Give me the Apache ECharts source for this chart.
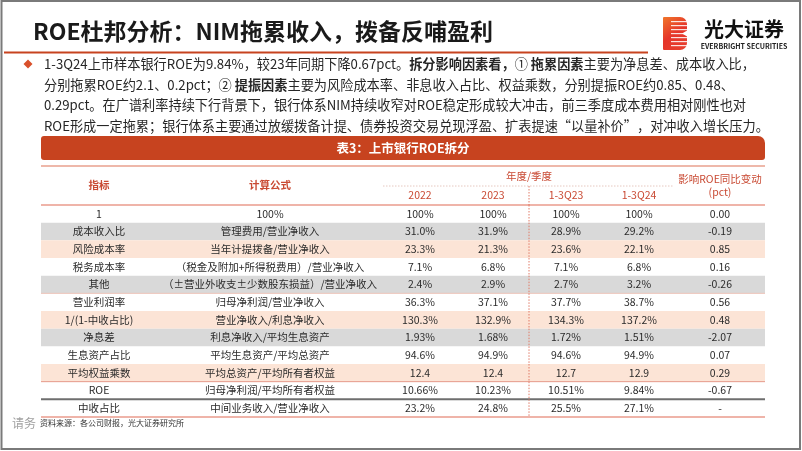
<!DOCTYPE html>
<html><head><meta charset="utf-8">
<script src="https://cdn.jsdelivr.net/npm/echarts/dist/echarts.min.js"></script>
<style>html,body{margin:0;padding:0;background:#fff}#c{width:802px;height:451px}</style>
</head><body><div id="c"></div>
<script>
// ---- data ----
const indicators = ['1','成本收入比','风险成本率','税务成本率','其他','营业利润率','1/(1-中收占比)','净息差','生息资产占比','平均权益乘数','ROE','中收占比'];
const formulas = ['100%','管理费用/营业净收入','当年计提拨备/营业净收入','（税金及附加+所得税费用）/营业净收入','（±营业外收支±少数股东损益）/营业净收入','归母净利润/营业净收入','营业净收入/利息净收入','利息净收入/平均生息资产','平均生息资产/平均总资产','平均总资产/平均所有者权益','归母净利润/平均所有者权益','中间业务收入/营业净收入'];
const v2022 = ['100%','31.0%','23.3%','7.1%','2.4%','36.3%','130.3%','1.93%','94.6%','12.4','10.66%','23.2%'];
const v2023 = ['100%','31.9%','21.3%','6.8%','2.9%','37.1%','132.9%','1.68%','94.9%','12.4','10.23%','24.8%'];
const v1to3Q23 = ['100%','28.9%','23.6%','7.1%','2.7%','37.7%','134.3%','1.72%','94.6%','12.7','10.51%','25.5%'];
const v1to3Q24 = ['100%','29.2%','22.1%','6.8%','3.2%','38.7%','137.2%','1.51%','94.9%','12.9','9.84%','27.1%'];
const roeImpact = ['0.00','-0.19','0.85','0.16','-0.26','0.56','0.48','-2.07','0.07','0.29','-0.67','-'];
const colHeaders = ['指标','计算公式','2022','2023','1-3Q23','1-3Q24'];
const periodHeader = '年度/季度';
const impactHeader = ['影响ROE同比变动','(pct)'];
const slideTitle = 'ROE杜邦分析：NIM拖累收入，拨备反哺盈利';
const tableTitle = '表3：上市银行ROE拆分';
const sourceNote = '资料来源：各公司财报，光大证券研究所';
const paragraph = [
  [['n','1-3Q24上市样本银行ROE为9.84%，较23年同期下降0.67pct。'],['b','拆分影响因素看，'],['n','① '],['b','拖累因素'],['n','主要为净息差、成本收入比，']],
  [['n','分别拖累ROE约2.1、0.2pct；② '],['b','提振因素'],['n','主要为风险成本率、非息收入占比、权益乘数，分别提振ROE约0.85、0.48、']],
  [['n','0.29pct。在广谱利率持续下行背景下，银行体系NIM持续收窄对ROE稳定形成较大冲击，前三季度成本费用相对刚性也对']],
  [['n','ROE形成一定拖累；银行体系主要通过放缓拨备计提、债券投资交易兑现浮盈、扩表提速“以量补价”，对冲收入增长压力。']]
];

// ---- style / layout ----
const FONT = '"Noto Sans CJK SC","Noto Sans",sans-serif';
const RED = '#C7431F';
const layout = { tableLeft: 41, tableRight: 765, cols: [99, 270, 420, 493, 566, 639, 720], divider: 529 };
const rowShade = ['', 'gray', 'pink', '', 'gray', '', 'pink', 'gray', '', 'pink', '', ''];
const shadeFill = { gray: '#D9D9D9', pink: '#FCE4D6' };
const rowBottomLine = { 4: ['#EDC3B8', 1], 9: ['#E59A8A', 1], 10: ['#6E6E6E', 2], 11: ['#E06A55', 1.2] };

const chart = echarts.init(document.getElementById('c'), null, { renderer: 'canvas' });

function renderRow(params, api) {
  const i = api.value(1);
  const c = api.coord([0, i]);
  const band = api.size([0, 1])[1];
  const y0 = c[1] - band / 2, y1 = c[1] + band / 2;
  const xL = api.coord([layout.tableLeft, i])[0];
  const xR = api.coord([layout.tableRight, i])[0];
  const xD = api.coord([layout.divider, i])[0];
  const children = [];
  if (rowShade[i]) {
    children.push({ type: 'rect', shape: { x: xL, y: y0, width: xR - xL, height: band }, style: { fill: shadeFill[rowShade[i]] } });
  }
  const cells = [indicators[i], formulas[i], v2022[i], v2023[i], v1to3Q23[i], v1to3Q24[i], roeImpact[i]];
  cells.forEach((t, k) => {
    const x = api.coord([layout.cols[k], i])[0];
    children.push({ type: 'text', x: x, y: c[1], style: { text: t, fill: '#2b2b2b', font: '10.5px ' + FONT, align: 'center', verticalAlign: 'middle' } });
  });
  children.push({ type: 'line', shape: { x1: xD, y1: y0, x2: xD, y2: y1 }, style: { stroke: '#E07A66', lineWidth: 1, lineDash: [1.5, 1.5] } });
  if (rowBottomLine[i]) {
    const s = rowBottomLine[i];
    children.push({ type: 'line', shape: { x1: xL, y1: y1, x2: xR, y2: y1 }, style: { stroke: s[0], lineWidth: s[1] } });
  }
  return { type: 'group', children };
}

function paraText(line) {
  return line.map(seg => '{' + seg[0] + '|' + seg[1] + '}').join('');
}
const paraRich = {
  n: { font: '13.2px ' + FONT, fill: '#262626' },
  b: { font: 'bold 13.2px ' + FONT, fill: '#262626' }
};
const paraY = [64, 84.5, 105, 125.5];

const graphics = [
  // frame
  { type: 'rect', shape: { x: 1.5, y: 1, width: 798.5, height: 448 }, style: { fill: 'none', stroke: '#7a7a7a', lineWidth: 2 }, z: 10 },
  // slide title
  { type: 'text', x: 33, y: 31, style: { text: slideTitle, font: 'bold 23px ' + FONT, fill: '#1a1a1a', verticalAlign: 'middle' } },
  { type: 'rect', shape: { x: 4, y: 51.5, width: 644, height: 2 }, style: { fill: RED } },
  // logo icon
  { type: 'rect', shape: { x: 663, y: 17, width: 24, height: 33, r: [1, 7, 7, 1] },
    style: { fill: new echarts.graphic.LinearGradient(0, 0, 1, 1, [{ offset: 0, color: '#F0762A' }, { offset: 0.5, color: '#E5352A' }, { offset: 1, color: '#E8402E' }]) } },
  ...[21, 25, 29, 33, 37, 41, 45].map(yy => ({ type: 'rect', shape: { x: 671, y: yy, width: 17, height: 1.2 }, style: { fill: 'rgba(255,255,255,0.85)' } })),
  { type: 'polygon', shape: { points: [[688, 30], [682, 33.5], [688, 37]] }, style: { fill: '#fff' } },
  { type: 'text', x: 744, y: 29, style: { text: '光大证券', font: 'bold 20px ' + FONT, fill: '#111', align: 'center', verticalAlign: 'middle' } },
  { type: 'text', x: 744, y: 46, style: { text: 'EVERBRIGHT SECURITIES', font: 'bold 7px ' + FONT, fill: '#222', align: 'center', verticalAlign: 'middle' } },
  // bullet
  { type: 'polygon', shape: { points: [[28, paraY[0] - 4.5], [32.5, paraY[0]], [28, paraY[0] + 4.5], [23.5, paraY[0]]] }, style: { fill: '#D9502B' } },
  ...paragraph.map((line, k) => ({ type: 'text', x: 44, y: paraY[k], style: { text: paraText(line), rich: paraRich, verticalAlign: 'middle' } })),
  // table title bar
  { type: 'rect', shape: { x: layout.tableLeft, y: 136, width: layout.tableRight - layout.tableLeft, height: 24, r: [3, 7, 3, 3] }, style: { fill: RED } },
  { type: 'text', x: 403, y: 148, style: { text: tableTitle, font: 'bold 12.5px ' + FONT, fill: '#fff', align: 'center', verticalAlign: 'middle' } },
  { type: 'line', shape: { x1: layout.tableLeft, y1: 166, x2: layout.tableRight, y2: 166 }, style: { stroke: '#E8A08E', lineWidth: 1.5 } },
  // header
  { type: 'text', x: layout.cols[0], y: 185, style: { text: colHeaders[0], font: 'bold 10.5px ' + FONT, fill: '#C94A33', align: 'center', verticalAlign: 'middle' } },
  { type: 'text', x: layout.cols[1], y: 185, style: { text: colHeaders[1], font: 'bold 10.5px ' + FONT, fill: '#C94A33', align: 'center', verticalAlign: 'middle' } },
  { type: 'text', x: layout.divider, y: 176, style: { text: periodHeader, font: '10.5px ' + FONT, fill: '#C94A33', align: 'center', verticalAlign: 'middle' } },
  ...[2, 3, 4, 5].map(k => ({ type: 'text', x: layout.cols[k], y: 195, style: { text: colHeaders[k], font: '10.5px ' + FONT, fill: '#C94A33', align: 'center', verticalAlign: 'middle' } })),
  { type: 'text', x: layout.cols[6], y: 179, style: { text: impactHeader[0], font: '10.5px ' + FONT, fill: '#C94A33', align: 'center', verticalAlign: 'middle' } },
  { type: 'text', x: layout.cols[6], y: 192, style: { text: impactHeader[1], font: '10.5px ' + FONT, fill: '#C94A33', align: 'center', verticalAlign: 'middle' } },
  { type: 'line', shape: { x1: 383, y1: 186, x2: 673, y2: 186 }, style: { stroke: '#E6C8C0', lineWidth: 1, lineDash: [1.5, 1.5] } },
  { type: 'line', shape: { x1: layout.divider, y1: 186, x2: layout.divider, y2: 205 }, style: { stroke: '#E07A66', lineWidth: 1, lineDash: [1.5, 1.5] } },
  { type: 'line', shape: { x1: layout.tableLeft, y1: 205, x2: layout.tableRight, y2: 205 }, style: { stroke: '#E06A55', lineWidth: 1.2 } },
  // footer
  { type: 'text', x: 12, y: 423, style: { text: '请务', font: '12px ' + FONT, fill: '#a0a0a0', verticalAlign: 'middle' } },
  { type: 'text', x: 40, y: 423, style: { text: sourceNote, font: '8px ' + FONT, fill: '#333', verticalAlign: 'middle' } }
];

chart.setOption({
  animation: false,
  backgroundColor: '#fff',
  grid: { left: 0, right: 0, top: 205, height: 212, containLabel: false },
  xAxis: { type: 'value', min: 0, max: 802, show: false },
  yAxis: { type: 'category', data: indicators, inverse: true, show: false },
  graphic: graphics,
  series: [{
    type: 'custom',
    renderItem: renderRow,
    clip: false,
    encode: { x: 0, y: 1 },
    data: indicators.map((_, i) => [0, i])
  }]
});
</script></body></html>
